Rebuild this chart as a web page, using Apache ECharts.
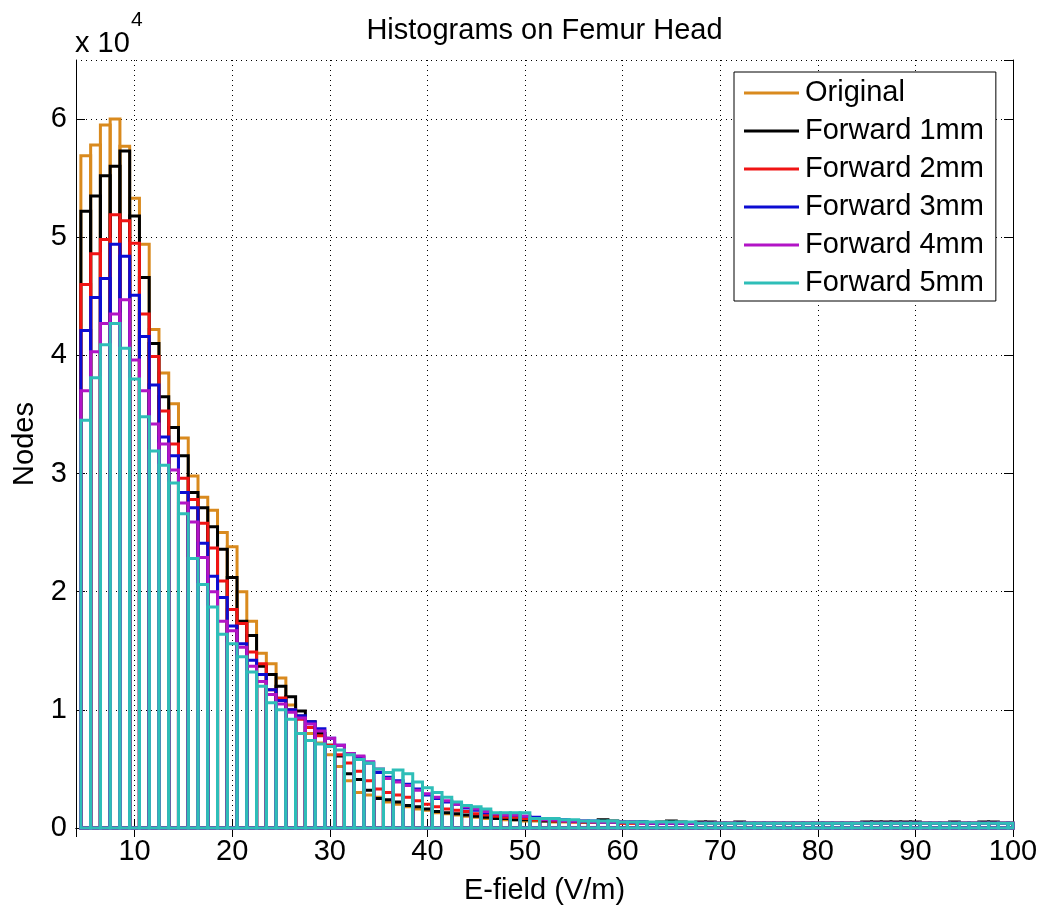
<!DOCTYPE html>
<html>
<head>
<meta charset="utf-8">
<script src="https://cdn.jsdelivr.net/npm/echarts@6/dist/echarts.min.js"></script>
<style>
  html, body { margin: 0; padding: 0; background: #fff; }
  #chart { width: 1041px; height: 910px; }
</style>
</head>
<body>
<div id="chart"></div>
<script>
// histogram bin centres (V/m), bin width 1
const binCenters = [
  5, 6, 7, 8, 9, 10, 11, 12, 13, 14, 15, 16, 17, 18, 19, 20, 21, 22, 23, 24,
  25, 26, 27, 28, 29, 30, 31, 32, 33, 34, 35, 36, 37, 38, 39, 40, 41, 42, 43, 44,
  45, 46, 47, 48, 49, 50, 51, 52, 53, 54, 55, 56, 57, 58, 59, 60, 61, 62, 63, 64,
  65, 66, 67, 68, 69, 70, 71, 72, 73, 74, 75, 76, 77, 78, 79, 80, 81, 82, 83, 84,
  85, 86, 87, 88, 89, 90, 91, 92, 93, 94, 95, 96, 97, 98, 99, 100
]
const BIN_WIDTH = 1

// node counts in units of 10^4
const original = [
  5.69, 5.78, 5.95, 6.00, 5.77, 5.33, 4.94, 4.22, 3.85, 3.59,
  3.30, 2.98, 2.80, 2.69, 2.50, 2.38, 2.00, 1.75, 1.48, 1.39,
  1.27, 1.04, 0.95, 0.80, 0.72, 0.62, 0.52, 0.40, 0.30, 0.28,
  0.26, 0.22, 0.20, 0.18, 0.16, 0.15, 0.13, 0.12, 0.11, 0.10,
  0.09, 0.08, 0.08, 0.07, 0.07, 0.06,
  0.06, 0.06, 0.05, 0.05, 0.05, 0.05, 0.05, 0.05, 0.05, 0.04,
  0.04, 0.04, 0.04, 0.04, 0.04, 0.04, 0.04, 0.04, 0.04, 0.04,
  0.04, 0.04, 0.04, 0.04, 0.04, 0.04, 0.04, 0.04, 0.04, 0.04,
  0.04, 0.04, 0.04, 0.04, 0.04, 0.04, 0.04, 0.04, 0.04, 0.04,
  0.04, 0.04, 0.04, 0.04, 0.04, 0.04, 0.04, 0.04, 0.04, 0.04
]
const forward1 = [
  5.22, 5.35, 5.52, 5.60, 5.73, 5.18, 4.66, 4.10, 3.65, 3.39,
  3.15, 2.84, 2.71, 2.55, 2.36, 2.12, 1.75, 1.63, 1.37, 1.30,
  1.20, 1.11, 0.99, 0.90, 0.80, 0.70, 0.61, 0.46, 0.41, 0.32,
  0.25, 0.24, 0.22, 0.19, 0.18, 0.16, 0.14, 0.13, 0.12, 0.11,
  0.10, 0.09, 0.08, 0.08, 0.07, 0.07,
  0.07, 0.06, 0.06, 0.06, 0.06, 0.05, 0.05, 0.07, 0.06, 0.05,
  0.05, 0.05, 0.04, 0.05, 0.06, 0.05, 0.04, 0.05, 0.05, 0.04,
  0.04, 0.05, 0.04, 0.04, 0.04, 0.04, 0.04, 0.04, 0.04, 0.04,
  0.04, 0.04, 0.04, 0.04, 0.05, 0.05, 0.05, 0.05, 0.05, 0.05,
  0.04, 0.04, 0.04, 0.05, 0.04, 0.04, 0.05, 0.05, 0.04, 0.04
]
const forward2 = [
  4.60, 4.86, 4.98, 5.19, 5.14, 4.95, 4.35, 3.99, 3.53, 3.25,
  2.96, 2.78, 2.58, 2.37, 2.09, 1.85, 1.73, 1.49, 1.39, 1.17,
  1.10, 1.00, 0.92, 0.85, 0.78, 0.70, 0.62, 0.55, 0.48, 0.40,
  0.33, 0.30, 0.28, 0.26, 0.23, 0.20, 0.18, 0.16, 0.15, 0.14,
  0.12, 0.11, 0.10, 0.09, 0.09, 0.08,
  0.07, 0.07, 0.06, 0.06, 0.05, 0.05, 0.05, 0.05, 0.05, 0.04,
  0.04, 0.04, 0.04, 0.04, 0.04, 0.04, 0.04, 0.04, 0.04, 0.04,
  0.04, 0.04, 0.04, 0.04, 0.04, 0.04, 0.04, 0.04, 0.04, 0.04,
  0.04, 0.04, 0.04, 0.04, 0.04, 0.04, 0.04, 0.04, 0.04, 0.04,
  0.04, 0.04, 0.04, 0.04, 0.04, 0.04, 0.04, 0.04, 0.04, 0.04
]
const forward3 = [
  4.21, 4.49, 4.65, 4.94, 4.84, 4.51, 4.16, 3.75, 3.31, 3.15,
  2.84, 2.71, 2.41, 2.13, 1.95, 1.71, 1.56, 1.42, 1.30, 1.17,
  1.08, 1.00, 0.95, 0.90, 0.84, 0.76, 0.70, 0.63, 0.60, 0.55,
  0.47, 0.43, 0.40, 0.37, 0.33, 0.28, 0.25, 0.22, 0.20, 0.17,
  0.15, 0.13, 0.12, 0.11, 0.11, 0.10,
  0.09, 0.08, 0.07, 0.07, 0.06, 0.06, 0.06, 0.05, 0.05, 0.05,
  0.05, 0.05, 0.04, 0.04, 0.04, 0.04, 0.04, 0.04, 0.04, 0.04,
  0.04, 0.04, 0.04, 0.04, 0.04, 0.04, 0.04, 0.04, 0.04, 0.04,
  0.04, 0.04, 0.04, 0.04, 0.04, 0.04, 0.04, 0.04, 0.04, 0.04,
  0.04, 0.04, 0.04, 0.04, 0.04, 0.04, 0.04, 0.04, 0.04, 0.04
]
const forward4 = [
  3.70, 4.03, 4.27, 4.35, 4.47, 3.96, 3.70, 3.42, 3.25, 3.03,
  2.75, 2.59, 2.29, 2.00, 1.75, 1.67, 1.53, 1.37, 1.24, 1.13,
  1.05, 0.98, 0.93, 0.88, 0.82, 0.76, 0.70, 0.63, 0.61, 0.56,
  0.50, 0.42, 0.39, 0.36, 0.32, 0.29, 0.26, 0.23, 0.20, 0.18,
  0.16, 0.14, 0.12, 0.11, 0.11, 0.10,
  0.08, 0.07, 0.07, 0.06, 0.06, 0.06, 0.05, 0.05, 0.05, 0.05,
  0.05, 0.04, 0.04, 0.04, 0.04, 0.04, 0.04, 0.04, 0.04, 0.04,
  0.04, 0.04, 0.04, 0.04, 0.04, 0.04, 0.04, 0.04, 0.04, 0.04,
  0.04, 0.04, 0.04, 0.04, 0.04, 0.04, 0.04, 0.04, 0.04, 0.04,
  0.04, 0.04, 0.04, 0.04, 0.04, 0.04, 0.04, 0.04, 0.04, 0.04
]
const forward5 = [
  3.45, 3.81, 4.09, 4.27, 4.06, 3.80, 3.48, 3.19, 3.07, 2.92,
  2.66, 2.28, 2.06, 1.87, 1.64, 1.56, 1.45, 1.32, 1.20, 1.06,
  1.00, 0.92, 0.80, 0.74, 0.71, 0.69, 0.66, 0.62, 0.58, 0.55,
  0.50, 0.47, 0.49, 0.46, 0.39, 0.34, 0.30, 0.26, 0.22, 0.19,
  0.18, 0.16, 0.13, 0.13, 0.13, 0.13,
  0.08, 0.08, 0.08, 0.07, 0.07, 0.06, 0.06, 0.06, 0.06, 0.05,
  0.05, 0.05, 0.05, 0.05, 0.05, 0.05, 0.05, 0.04, 0.04, 0.04,
  0.04, 0.04, 0.04, 0.04, 0.04, 0.04, 0.04, 0.04, 0.04, 0.04,
  0.04, 0.04, 0.04, 0.04, 0.04, 0.04, 0.04, 0.04, 0.04, 0.04,
  0.04, 0.04, 0.04, 0.04, 0.04, 0.04, 0.04, 0.04, 0.04, 0.04
]

const seriesNames = ['Original', 'Forward 1mm', 'Forward 2mm', 'Forward 3mm', 'Forward 4mm', 'Forward 5mm']
const seriesValues = [original, forward1, forward2, forward3, forward4, forward5]
const seriesColors = ['#D98A1E', '#000000', '#F01414', '#0C0CD2', '#B214C6', '#2EBEB8']

const FONT = 'Liberation Sans, Arial, Helvetica, sans-serif'
const FONT_SIZE = 29

function histItem(color) {
  return function (params, api) {
    const x = api.value(0)
    const y = api.value(1)
    const topLeft = api.coord([x - BIN_WIDTH / 2, y])
    const bottomRight = api.coord([x + BIN_WIDTH / 2, 0])
    const shape = echarts.graphic.clipRectByRect(
      {
        x: topLeft[0],
        y: topLeft[1],
        width: bottomRight[0] - topLeft[0],
        height: bottomRight[1] - topLeft[1],
      },
      {
        x: params.coordSys.x,
        y: params.coordSys.y,
        width: params.coordSys.width,
        height: params.coordSys.height,
      }
    )
    if (!shape) {
      return null
    }
    return {
      type: 'rect',
      shape: shape,
      style: { fill: 'none', stroke: color, lineWidth: 3 },
    }
  }
}

const chart = echarts.init(document.getElementById('chart'), null, { renderer: 'canvas' })

const gridLine = { show: true, lineStyle: { color: '#000', width: 1, type: [1, 4] } }

chart.setOption({
  backgroundColor: '#fff',
  animation: false,
  textStyle: { fontFamily: FONT },
  grid: { left: 76, right: 28, top: 60, bottom: 74, containLabel: false },
  graphic: [
    {
      type: 'text',
      x: 544.5,
      y: 31,
      style: {
        text: 'Histograms on Femur Head',
        font: FONT_SIZE + 'px ' + FONT,
        fill: '#000',
        textAlign: 'center',
        textVerticalAlign: 'middle',
      },
    },
    {
      type: 'text',
      x: 75,
      y: 44,
      style: {
        text: 'x 10',
        font: FONT_SIZE + 'px ' + FONT,
        fill: '#000',
        textAlign: 'left',
        textVerticalAlign: 'middle',
      },
    },
    {
      type: 'text',
      x: 131,
      y: 20,
      style: {
        text: '4',
        font: '21px ' + FONT,
        fill: '#000',
        textAlign: 'left',
        textVerticalAlign: 'middle',
      },
    },
  ],
  legend: {
    orient: 'vertical',
    left: 734,
    top: 72,
    padding: [6, 12, 3, 10],
    itemGap: 8,
    itemWidth: 55,
    itemHeight: 3,
    icon: 'rect',
    backgroundColor: '#fff',
    borderColor: '#000',
    borderWidth: 1,
    textStyle: { fontFamily: FONT, fontSize: FONT_SIZE, color: '#000', lineHeight: 30, padding: [0, 0, 0, 1] },
    data: seriesNames,
  },
  xAxis: [
    {
      type: 'value',
      min: 4,
      max: 100,
      splitNumber: 10,
      name: 'E-field (V/m)',
      nameLocation: 'middle',
      nameGap: 48,
      nameTextStyle: { fontFamily: FONT, fontSize: FONT_SIZE, color: '#000' },
      axisLine: { show: true, lineStyle: { color: '#000', width: 1 } },
      axisTick: { show: true, inside: true, length: 9, lineStyle: { color: '#000' } },
      axisLabel: { showMinLabel: false, margin: 9, fontFamily: FONT, fontSize: FONT_SIZE, color: '#000' },
      splitLine: gridLine,
    },
    {
      type: 'value',
      position: 'top',
      min: 4,
      max: 100,
      splitNumber: 10,
      axisLine: { show: true, lineStyle: { color: '#000', width: 1 } },
      axisTick: { show: true, inside: true, length: 9, lineStyle: { color: '#000' } },
      axisLabel: { show: false },
      splitLine: { show: false },
    },
  ],
  yAxis: [
    {
      type: 'value',
      min: 0,
      max: 6.5,
      interval: 1,
      name: 'Nodes',
      nameLocation: 'middle',
      nameGap: 35,
      nameTextStyle: { fontFamily: FONT, fontSize: FONT_SIZE, color: '#000' },
      axisLine: { show: true, lineStyle: { color: '#000', width: 1 } },
      axisTick: { show: true, inside: true, length: 9, lineStyle: { color: '#000' } },
      axisLabel: { showMaxLabel: false, margin: 9, fontFamily: FONT, fontSize: FONT_SIZE, color: '#000' },
      splitLine: gridLine,
    },
    {
      type: 'value',
      position: 'right',
      min: 0,
      max: 6.5,
      interval: 1,
      axisLine: { show: true, lineStyle: { color: '#000', width: 1 } },
      axisTick: { show: true, inside: true, length: 9, lineStyle: { color: '#000' } },
      axisLabel: { show: false },
      splitLine: { show: false },
    },
  ],
  series: seriesNames.map((name, i) => ({
    name: name,
    type: 'custom',
    xAxisIndex: 0,
    yAxisIndex: 0,
    renderItem: histItem(seriesColors[i]),
    itemStyle: { color: seriesColors[i] },
    encode: { x: 0, y: 1 },
    data: binCenters.map((c, j) => [c, seriesValues[i][j]]),
  })),
})
</script>
</body>
</html>
